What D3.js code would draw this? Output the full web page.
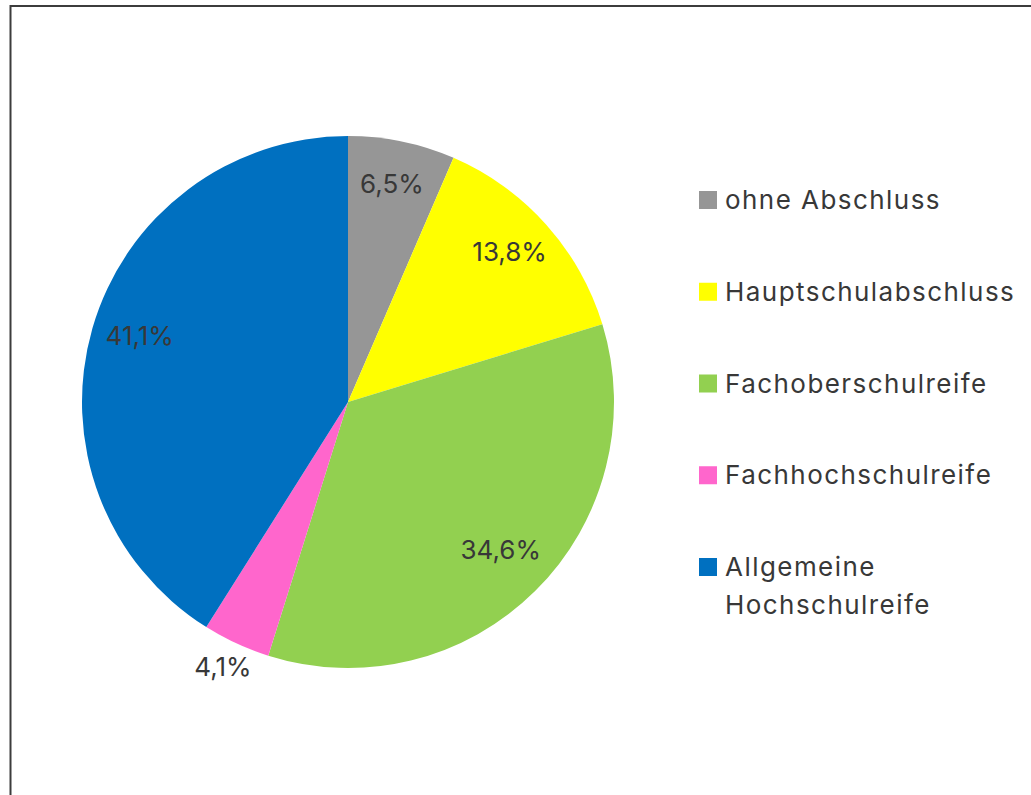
<!DOCTYPE html>
<html>
<head>
<meta charset="utf-8">
<script src="https://cdn.jsdelivr.net/npm/d3@7"></script>
<style>
  html, body { margin: 0; padding: 0; background: #fff; }
  svg { display: block; }
  text { font-family: "Inter", "DejaVu Sans", sans-serif; fill: #383838; }
</style>
</head>
<body>
<svg id="chart" width="1031" height="795"></svg>
<script>
const categories = ["ohne Abschluss", "Hauptschulabschluss", "Fachoberschulreife", "Fachhochschulreife", "Allgemeine Hochschulreife"];
const values = [6.5, 13.8, 34.6, 4.1, 41.1];
const labels = ["6,5%", "13,8%", "34,6%", "4,1%", "41,1%"];
const colors = ["#969696", "#FFFF00", "#92D050", "#FF66CC", "#0070C0"];
const legendLines = [["ohne Abschluss"], ["Hauptschulabschluss"], ["Fachoberschulreife"], ["Fachhochschulreife"], ["Allgemeine", "Hochschulreife"]];

const svg = d3.select("#chart");

// frame
svg.append("line").attr("x1", 10.5).attr("x2", 10.5).attr("y1", 5).attr("y2", 795)
  .attr("stroke", "#3c3c3c").attr("stroke-width", 2);
svg.append("line").attr("x1", 10).attr("x2", 1031).attr("y1", 6).attr("y2", 6)
  .attr("stroke", "#3c3c3c").attr("stroke-width", 2);

const cx = 348, cy = 402, r = 266;
const g = svg.append("g").attr("transform", `translate(${cx},${cy})`);

const pie = d3.pie().sort(null).value(d => d);
const arcs = pie(values);
const arc = d3.arc().innerRadius(0).outerRadius(r);

g.selectAll("path").data(arcs).enter().append("path")
  .attr("d", arc)
  .attr("fill", (d, i) => colors[i]);

// label placement (best-fit style: inside for large slices, outside for small one)
const labelRadius = (d) => (d.data < 5 ? r * 1.12 : r * 0.815);
g.selectAll("text.lbl").data(arcs).enter().append("text")
  .attr("class", "lbl")
  .attr("transform", d => {
    const a = (d.startAngle + d.endAngle) / 2;
    const rr = labelRadius(d);
    return `translate(${Math.sin(a) * rr},${-Math.cos(a) * rr})`;
  })
  .attr("text-anchor", "middle")
  .attr("dy", "0.12em")
  .style("font-size", "26px")
  .text((d, i) => labels[i]);

// legend
const legendY = d3.scalePoint().domain(categories).range([200, 567]);
const lg = svg.append("g");
categories.forEach((c, i) => {
  const y = legendY(c);
  lg.append("rect").attr("x", 699).attr("y", y - 9).attr("width", 18).attr("height", 18)
    .attr("fill", colors[i]);
  const t = lg.append("text").attr("x", 725).attr("y", y)
    .style("font-size", "26px").style("letter-spacing", "1.45px");
  legendLines[i].forEach((line, j) => {
    t.append("tspan").attr("x", 725).attr("dy", j === 0 ? "0.35em" : "38px").text(line);
  });
});
</script>
</body>
</html>
